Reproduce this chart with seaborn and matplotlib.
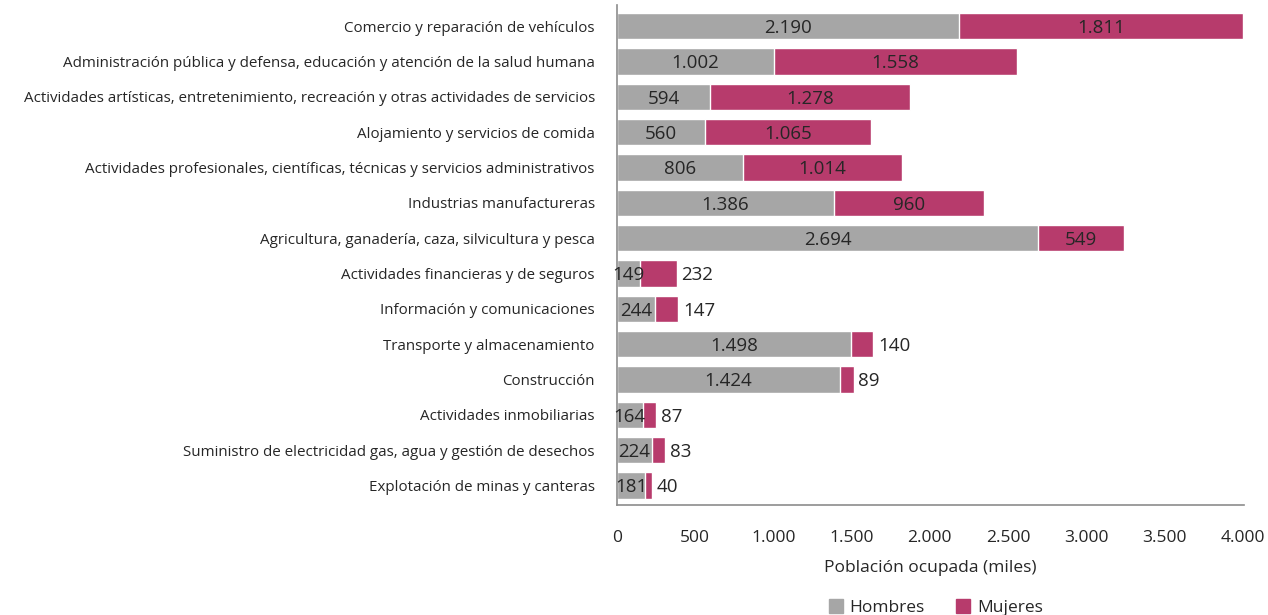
import numpy as np
import pandas as pd
import matplotlib
matplotlib.use('Agg')
import matplotlib.pyplot as plt
import seaborn as sns
from matplotlib.ticker import FuncFormatter

sns.set_style('white')
plt.rcParams['font.family'] = ['Open Sans', 'DejaVu Sans']

# employed population by sector (thousands)
sectores = [
    'Comercio y reparación de vehículos',
    'Administración pública y defensa, educación y atención de la salud humana',
    'Actividades artísticas, entretenimiento, recreación y otras actividades de servicios',
    'Alojamiento y servicios de comida',
    'Actividades profesionales, científicas, técnicas y servicios administrativos',
    'Industrias manufactureras',
    'Agricultura, ganadería, caza, silvicultura y pesca',
    'Actividades financieras y de seguros',
    'Información y comunicaciones',
    'Transporte y almacenamiento',
    'Construcción',
    'Actividades inmobiliarias',
    'Suministro de electricidad gas, agua y gestión de desechos',
    'Explotación de minas y canteras',
]
hombres = [2190, 1002, 594, 560, 806, 1386, 2694, 149, 244, 1498, 1424, 164, 224, 181]
mujeres = [1811, 1558, 1278, 1065, 1014, 960, 549, 232, 147, 140, 89, 87, 83, 40]

gris = '#A6A6A6'
rosa = '#B73B6C'
txt = '#262626'

df = pd.DataFrame({'sector': sectores, 'hombres': hombres, 'mujeres': mujeres})
df['total'] = df['hombres'] + df['mujeres']

fig = plt.figure(figsize=(12.68, 6.15), dpi=100)
ax = fig.add_axes([0.4866, 0.179, 0.4945, 0.813])

# total bar in pink, men drawn on top in grey -> stacked look
sns.barplot(data=df, y='sector', x='total', color=rosa, orient='h', width=0.74,
            saturation=1, ax=ax)
sns.barplot(data=df, y='sector', x='hombres', color=gris, orient='h', width=0.74,
            saturation=1, ax=ax)

fmt = lambda v: f'{int(v):,}'.replace(',', '.')
for i, row in df.iterrows():
    ax.text(row['hombres'] / 2, i + 0.05, fmt(row['hombres']), ha='center', va='center',
            fontsize=13.5, color=txt)
    if row['mujeres'] >= 300:
        ax.text(row['hombres'] + row['mujeres'] / 2, i + 0.05, fmt(row['mujeres']),
                ha='center', va='center', fontsize=13.5, color=txt)
    else:
        ax.text(row['total'] + 30, i + 0.05, fmt(row['mujeres']), ha='left', va='center',
                fontsize=13.5, color=txt)

ax.set_xlim(0, 4010)
ax.set_ylim(13.55, -0.6)
ax.set_xticks(np.arange(0, 4001, 500))
ax.xaxis.set_major_formatter(FuncFormatter(lambda v, p: fmt(v)))
ax.tick_params(axis='x', length=0, pad=18, labelsize=12.5, labelcolor=txt)
ax.tick_params(axis='y', length=0, pad=16, labelsize=10.9, labelcolor=txt)
ax.set_ylabel('')
ax.set_xlabel('Población ocupada (miles)', fontsize=12.5, color=txt, labelpad=10)
for s in ['top', 'right']:
    ax.spines[s].set_visible(False)
for s in ['left', 'bottom']:
    ax.spines[s].set_color('#8C8C8C')
    ax.spines[s].set_linewidth(1.2)

handles = [plt.Rectangle((0, 0), 1, 1, color=gris), plt.Rectangle((0, 0), 1, 1, color=rosa)]
fig.legend(handles, ['Hombres', 'Mujeres'], loc='lower center', ncol=2,
           bbox_to_anchor=(0.738, -0.027), frameon=False, fontsize=12.5,
           handlelength=0.8, handleheight=0.8, handletextpad=0.4, columnspacing=1.8,
           labelcolor=txt)

fig.savefig('out.png', dpi=100)
